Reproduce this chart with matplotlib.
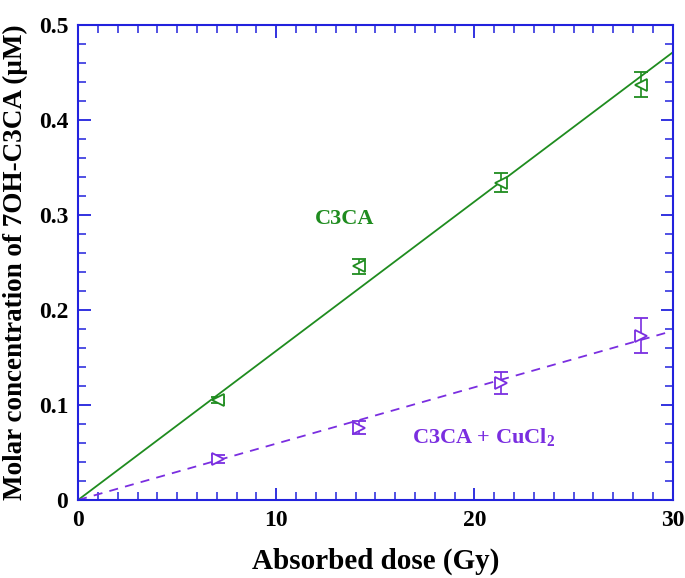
import numpy as np
import matplotlib
matplotlib.use("Agg")
from matplotlib import pyplot as plt
from matplotlib.ticker import MultipleLocator

# absorbed dose (Gy)
dose = [7.05, 14.15, 21.35, 28.4]

# C3CA alone
c3ca = [0.105, 0.246, 0.334, 0.437]
c3ca_err = [0.003, 0.008, 0.010, 0.013]
c3ca_slope = 0.0157

# C3CA + CuCl2
cucl = [0.043, 0.076, 0.123, 0.173]
cucl_err = [0.004, 0.007, 0.012, 0.018]
cucl_slope = 0.00593

xticks = [0, 10, 20, 30]
yticks = [0, 0.1, 0.2, 0.3, 0.4, 0.5]
ytick_labels = ["0", "0.1", "0.2", "0.3", "0.4", "0.5"]

green = "#1f8c1f"
purple = "#7a2ee0"
blue = "#2222dd"

plt.rcParams["font.family"] = ["Liberation Serif", "DejaVu Serif"]
plt.rcParams["font.weight"] = "bold"
plt.rcParams["mathtext.fontset"] = "custom"
plt.rcParams["mathtext.rm"] = "Liberation Serif:bold"

fig = plt.figure(figsize=(6.85, 5.78), dpi=100)
ax = fig.add_axes([0.114, 0.135, 0.868, 0.822])

xfit = np.array([0, 30])

# Fit lines
ax.plot(xfit, c3ca_slope * xfit, color=green, lw=1.3)
ax.plot(xfit, cucl_slope * xfit, color=purple, lw=1.3, ls=(0, (5, 4)))

# Data points
ax.errorbar(dose, c3ca, yerr=c3ca_err, fmt="<", color=green,
            mfc="white", mec=green, ms=8, mew=1.3, capsize=5, elinewidth=1.2)
ax.errorbar(dose, cucl, yerr=cucl_err, fmt=">", color=purple,
            mfc="white", mec=purple, ms=8, mew=1.3, capsize=5, elinewidth=1.2)

ax.text(11.95, 0.29, "C3CA", color=green, fontsize=16, fontweight="bold")
ax.text(16.85, 0.06, r"C3CA + CuCl$_2$", color=purple, fontsize=16, fontweight="bold")

ax.set_xlim(0, 30)
ax.set_ylim(0, 0.5)
ax.set_xticks(xticks)
ax.set_xticklabels([str(v) for v in xticks])
ax.set_yticks(yticks)
ax.set_yticklabels(ytick_labels)
ax.xaxis.set_minor_locator(MultipleLocator(1))
ax.yaxis.set_minor_locator(MultipleLocator(0.02))

ax.tick_params(which="both", direction="in", top=True, right=True, color=blue,
               labelsize=17, pad=7)
ax.tick_params(which="major", length=9, width=1.3)
ax.tick_params(which="minor", length=6, width=1.1)
for s in ax.spines.values():
    s.set_color(blue)
    s.set_linewidth(1.5)

ax.set_xlabel("Absorbed dose (Gy)", fontsize=21, fontweight="bold", labelpad=12)
ax.set_ylabel("Molar concentration of 7OH-C3CA (\u03bcM)", fontsize=19.5,
              fontweight="bold", labelpad=8)

fig.savefig("out.png", dpi=100)
